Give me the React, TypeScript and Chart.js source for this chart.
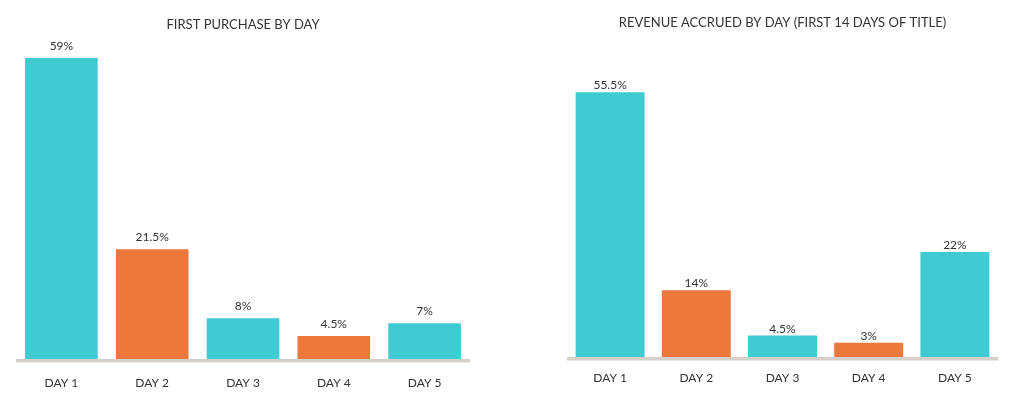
import React, { useEffect, useRef } from "react";
import { Chart, registerables } from "chart.js";

Chart.register(...registerables);

const categories = ["DAY 1", "DAY 2", "DAY 3", "DAY 4", "DAY 5"];
const firstPurchase = [59, 21.5, 8, 4.5, 7];
const revenueAccrued = [55.5, 14, 4.5, 3, 22];
const firstPurchaseColors = ["#40CBD2", "#EC783C", "#40CBD2", "#EC783C", "#40CBD2"];
const revenueColors = ["#40CBD2", "#EC783C", "#40CBD2", "#EC783C", "#40CBD2"];
const leftTitle = "FIRST PURCHASE BY DAY";
const rightTitle = "REVENUE ACCRUED BY DAY (FIRST 14 DAYS OF TITLE)";

const FONT = "Lato, 'Noto Sans', sans-serif";
const TEXT = "#333333";

function makeConfig(opts: {
  title: string;
  data: number[];
  colors: string[];
  max: number;
  padLeft: number;
  padRight: number;
  xHeight: number;
  titleTop: number;
  titleBottom: number;
  tickPad: number;
  labelGap: number;
}) {
  const valuePlugin = {
    id: "values",
    afterDatasetsDraw(chart: any) {
      const ctx = chart.ctx;
      const meta = chart.getDatasetMeta(0);
      ctx.save();
      ctx.font = `12px ${FONT}`;
      ctx.fillStyle = TEXT;
      ctx.textAlign = "center";
      ctx.textBaseline = "alphabetic";
      meta.data.forEach((bar: any, i: number) => {
        ctx.fillText(`${opts.data[i]}%`, bar.x, bar.y - opts.labelGap);
      });
      ctx.restore();
    },
  };
  const axisLinePlugin = {
    id: "axisLine",
    afterDatasetsDraw(chart: any) {
      const { ctx, chartArea } = chart;
      ctx.save();
      ctx.fillStyle = "#D6D0CA";
      ctx.fillRect(chartArea.left, chartArea.bottom, chartArea.right - chartArea.left, 3.5);
      ctx.restore();
    },
  };
  return {
    type: "bar" as const,
    data: {
      labels: categories,
      datasets: [
        {
          data: opts.data,
          backgroundColor: opts.colors,
          borderWidth: 0,
          barPercentage: 0.8,
          categoryPercentage: 1.0,
        },
      ],
    },
    options: {
      responsive: false,
      animation: false as const,
      layout: { padding: { left: opts.padLeft, right: opts.padRight, top: 0, bottom: 0 } },
      plugins: {
        legend: { display: false },
        tooltip: { enabled: false },
        title: {
          display: true,
          text: opts.title,
          color: TEXT,
          font: { family: FONT, size: 13, weight: "normal" as const },
          padding: { top: opts.titleTop, bottom: opts.titleBottom },
        },
      },
      scales: {
        x: {
          grid: { display: false, drawTicks: false },
          border: { display: false },
          ticks: {
            color: TEXT,
            font: { family: FONT, size: 12 },
            padding: opts.tickPad,
          },
          afterFit: (s: any) => {
            s.height = opts.xHeight;
          },
        },
        y: {
          display: false,
          min: 0,
          max: opts.max,
        },
      },
    },
    plugins: [valuePlugin, axisLinePlugin],
  };
}

function BarChart(props: { config: any; left: number }) {
  const ref = useRef<HTMLCanvasElement>(null);
  useEffect(() => {
    const chart = new Chart(ref.current as HTMLCanvasElement, props.config);
    return () => chart.destroy();
  }, []);
  return (
    <canvas
      ref={ref}
      width={517}
      height={402}
      style={{ position: "absolute", left: props.left, top: 0, width: 517, height: 402 }}
    />
  );
}

export default function App() {
  const leftCfg = makeConfig({
    title: leftTitle,
    data: firstPurchase,
    colors: firstPurchaseColors,
    max: 62,
    padLeft: 16,
    padRight: 47,
    xHeight: 43,
    titleTop: 17,
    titleBottom: 10.2,
    tickPad: 17,
    labelGap: 8.5,
  });
  const rightCfg = makeConfig({
    title: rightTitle,
    data: revenueAccrued,
    colors: revenueColors,
    max: 66.3,
    padLeft: 50,
    padRight: 36,
    xHeight: 45,
    titleTop: 15,
    titleBottom: 10.2,
    tickPad: 14,
    labelGap: 3,
  });
  return (
    <div
      style={{
        position: "absolute",
        left: 0,
        top: 0,
        width: 1034,
        height: 402,
        background: "#ffffff",
        overflow: "hidden",
      }}
    >
      <BarChart config={leftCfg} left={0} />
      <BarChart config={rightCfg} left={517} />
    </div>
  );
}
